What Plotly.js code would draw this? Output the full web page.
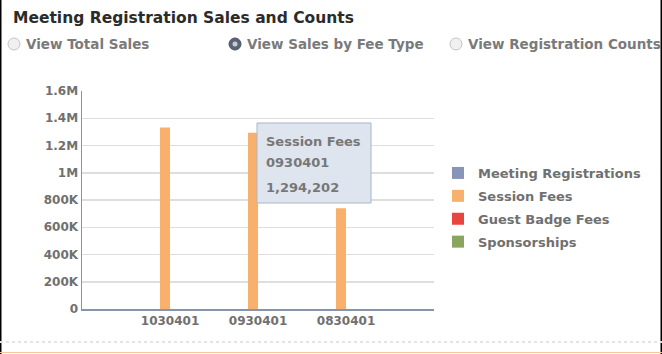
<!DOCTYPE html>
<html>
<head>
<meta charset="utf-8">
<script src="https://cdn.plot.ly/plotly-3.0.1.min.js"></script>
<style>
html,body{margin:0;padding:0;background:#fff;}
#chart{width:662px;height:354px;}
</style>
</head>
<body>
<div id="chart"></div>
<script>
// ---- data ----
var categories = ["1030401", "0930401", "0830401"];
var seriesNames = ["Meeting Registrations", "Session Fees", "Guest Badge Fees", "Sponsorships"];
var meetingRegistrations = [0, 0, 0];
var sessionFees = [1332000, 1294202, 739000];
var guestBadgeFees = [0, 0, 0];
var sponsorships = [0, 0, 0];
var seriesColors = ["#8796b8", "#f8b16c", "#e8453c", "#8aa65e"];
var yTickVals = [0, 200000, 400000, 600000, 800000, 1000000, 1200000, 1400000, 1600000];
var yTickText = ["0", "200K", "400K", "600K", "800K", "1M", "1.2M", "1.4M", "1.6M"];
var chartTitle = "Meeting Registration Sales and Counts";
var radioLabels = ["View Total Sales", "View Sales by Fee Type", "View Registration Counts"];
var radioSelected = 1;
var tooltipSeries = 1, tooltipCategory = 1;

// ---- layout helpers (pixel -> paper) ----
var L = 82, R = 228, T = 91, B = 45, W = 662, H = 354;
var PW = W - L - R, PH = H - T - B;
function px(x) { return (x - L) / PW; }
function py(y) { return (H - B - y) / PH; }

var seriesValues = [meetingRegistrations, sessionFees, guestBadgeFees, sponsorships];
var traces = seriesNames.map(function (name, i) {
  return {
    type: "bar",
    name: name,
    x: categories,
    y: seriesValues[i],
    legendgroup: "g" + i,
    marker: { color: seriesColors[i], line: { width: 0 } },
    hoverinfo: "skip"
  };
});

var gray = "#707070";
var font = "DejaVu Sans, Verdana, sans-serif";

var shapes = [];
var annotations = [];

// title
annotations.push({
  xref: "paper", yref: "paper", x: px(11), y: py(18), xanchor: "left", yanchor: "middle",
  text: "<b>" + chartTitle + "</b>", showarrow: false,
  font: { family: font, size: 15.5, color: "#2b2b2b" }
});

// radio buttons
var radioX = [14, 235, 456];
radioLabels.forEach(function (lbl, i) {
  var cx = radioX[i], cy = 44, r = 6;
  var sel = i === radioSelected;
  shapes.push({
    type: "circle", xref: "paper", yref: "paper",
    x0: px(cx - r), x1: px(cx + r), y0: py(cy + r), y1: py(cy - r),
    fillcolor: sel ? "#5b6475" : "#f0f0f0", line: { color: sel ? "#4a5262" : "#c4c4c4", width: 1 }
  });
  if (sel) {
    shapes.push({
      type: "circle", xref: "paper", yref: "paper",
      x0: px(cx - 2.5), x1: px(cx + 2.5), y0: py(cy + 2.5), y1: py(cy - 2.5),
      fillcolor: "#c8ccd4", line: { width: 0 }
    });
  }
  annotations.push({
    xref: "paper", yref: "paper", x: px(cx + 10), y: py(cy), xanchor: "left", yanchor: "middle",
    text: "<b>" + lbl + "</b>", showarrow: false,
    font: { family: font, size: 13.5, color: "#7a7a7a" }
  });
});

// tooltip box (hover state shown in reference)
shapes.push({
  type: "rect", xref: "paper", yref: "paper",
  x0: px(257), x1: px(371), y0: py(203), y1: py(123),
  fillcolor: "#dfe5ee", line: { color: "#aab6c8", width: 1 }
});
var tipVal = seriesValues[tooltipSeries][tooltipCategory].toLocaleString("en-US");
var tipLines = [seriesNames[tooltipSeries], categories[tooltipCategory], tipVal];
var tipY = [141, 162, 187];
tipLines.forEach(function (t, i) {
  annotations.push({
    xref: "paper", yref: "paper", x: px(264), y: py(tipY[i]), xanchor: "left", yanchor: "middle",
    text: "<b>" + t + "</b>", showarrow: false,
    font: { family: font, size: 13, color: "#777777" }
  });
});

// frame edges
shapes.push({ type: "line", xref: "paper", yref: "paper", x0: px(0.5), x1: px(0.5), y0: py(0), y1: py(354), line: { color: "#000", width: 2 } });
shapes.push({ type: "line", xref: "paper", yref: "paper", x0: px(661.5), x1: px(661.5), y0: py(0), y1: py(354), line: { color: "#000", width: 2 } });
shapes.push({ type: "line", xref: "paper", yref: "paper", x0: px(0), x1: px(662), y0: py(342), y1: py(342), line: { color: "#e4e4e4", width: 2, dash: "dot" } });
shapes.push({ type: "line", xref: "paper", yref: "paper", x0: px(0), x1: px(662), y0: py(352.5), y1: py(352.5), line: { color: "#f3c9a0", width: 1 } });

var layout = {
  width: W, height: H,
  margin: { l: L, r: R, t: T, b: B, pad: 0 },
  paper_bgcolor: "#ffffff", plot_bgcolor: "#ffffff",
  barmode: "group", bargap: 0.545, bargroupgap: 0,
  showlegend: true,
  legend: {
    x: px(438), y: py(158), xanchor: "left", yanchor: "top",
    traceorder: "grouped", tracegroupgap: 3,
    font: { family: font, size: 13, color: gray, weight: "bold" },
    bgcolor: "rgba(0,0,0,0)", itemclick: false
  },
  font: { family: font },
  xaxis: {
    type: "category", range: [-1, 3], showgrid: false, zeroline: false,
    showline: true, linecolor: "#8894aa", linewidth: 1.5, ticks: "",
    tickfont: { family: font, size: 12, color: gray, weight: "bold" }, fixedrange: true
  },
  yaxis: {
    range: [0, 1600000], tickvals: yTickVals, ticktext: yTickText,
    showgrid: true, gridcolor: "#dedede", gridwidth: 1.5, zeroline: false,
    showline: true, linecolor: "#8894aa", linewidth: 1.5, ticks: "",
    tickfont: { family: font, size: 12, color: gray, weight: "bold" }, fixedrange: true
  },
  shapes: shapes,
  annotations: annotations
};

Plotly.newPlot("chart", traces, layout, { displayModeBar: false, staticPlot: true });
</script>
</body>
</html>
